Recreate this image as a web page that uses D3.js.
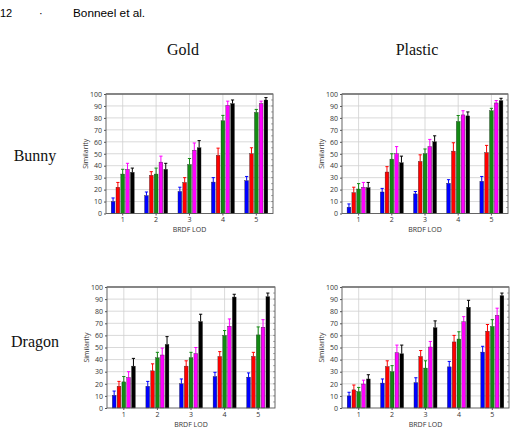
<!DOCTYPE html>
<html>
<head>
<meta charset="utf-8">
<script src="https://cdnjs.cloudflare.com/ajax/libs/d3/7.8.5/d3.min.js"></script>
<style>
  body { margin: 0; background: #fff; }
  .tick-label { font-family: "Open Sans", sans-serif; font-size: 7px; fill: #333; }
  .axis-title { font-family: "Open Sans", sans-serif; font-size: 7px; fill: #333; }
  .serif { font-family: "Liberation Serif", "Times New Roman", serif; font-size: 16px; fill: #111; }
</style>
</head>
<body>
<div id="chart"></div>
<script>
// BRDF LOD categories and y ticks
const lods = ["1", "2", "3", "4", "5"];
const yTicks = [0, 10, 20, 30, 40, 50, 60, 70, 80, 90, 100];
const seriesNames = ["s1", "s2", "s3", "s4", "s5"];

// values: one row per series (blue, red, green, magenta, black), one column per LOD
const goldBunny = [
  [10, 15, 18.5, 26.3, 27.5],
  [22, 32, 26, 48.7, 50],
  [33, 33, 41, 77.6, 84.6],
  [37, 43, 53, 90.5, 92],
  [34.5, 37, 55, 92, 95]
];
const goldBunnyErr = [
  [3, 3, 3.5, 3.7, 3.5],
  [4, 3, 4, 6, 5],
  [4, 5, 5, 4.5, 2.5],
  [5, 5, 6, 3.5, 2],
  [3.5, 5, 6, 3, 2]
];
const plasticBunny = [
  [5.3, 18, 16.4, 25.3, 27],
  [17.5, 34.7, 43.6, 52.2, 51],
  [20.5, 45.5, 50, 77, 86],
  [22, 50, 56, 82.5, 92.5],
  [21.7, 42.5, 60, 81.7, 94.4]
];
const plasticBunnyErr = [
  [2.7, 3, 2, 3, 4],
  [4.5, 4.5, 5.5, 7, 6],
  [4.5, 4.5, 4, 5, 2],
  [4, 6, 6, 3.5, 2],
  [4.3, 5.5, 5, 3.3, 2]
];
const goldDragon = [
  [10.5, 18, 20, 26, 25.5],
  [18, 30.7, 34.6, 42.6, 42.7],
  [21.6, 41.5, 41.5, 60, 60.4],
  [25.2, 43.8, 45, 67.6, 66.8],
  [34.6, 52.6, 71.5, 91.7, 92]
];
const goldDragonErr = [
  [3.5, 4, 4, 3.5, 3.5],
  [4, 5.8, 4.4, 4, 3.3],
  [4.4, 4.5, 4.5, 4, 6.6],
  [4.8, 5.7, 5, 6, 6.2],
  [6.4, 6.4, 6, 2.3, 3]
];
const plasticDragon = [
  [10, 20.6, 21, 34, 46.2],
  [15, 34.3, 42.6, 54.6, 63.5],
  [13.6, 30, 33, 57, 67.4],
  [19.8, 45.7, 50.4, 71.3, 76.6],
  [24, 44.8, 66.3, 83.3, 92.8]
];
const plasticDragonErr = [
  [3, 3.4, 4, 4.5, 4.8],
  [4, 4.7, 4.9, 5.4, 5.5],
  [3.4, 5, 6, 6, 5.6],
  [3.2, 6.3, 4.6, 4.2, 5.9],
  [3.5, 7.2, 5.7, 5.7, 2.2]
];

const colors = ["#0000ff", "#ff0000", "#138a13", "#ff00ff", "#000000"];

const svg = d3.select("#chart").append("svg")
  .attr("width", 516)
  .attr("height", 444);

// page header
svg.append("text").attr("x", 0).attr("y", 17)
  .style("font-family", "Liberation Sans, Arial, sans-serif").style("font-size", "11px").text("12");
svg.append("text").attr("x", 39).attr("y", 17)
  .style("font-family", "Liberation Sans, Arial, sans-serif").style("font-size", "11px").text("·");
svg.append("text").attr("x", 73).attr("y", 17)
  .style("font-family", "Liberation Sans, Arial, sans-serif").style("font-size", "11.8px").text("Bonneel et al.");

// column / row titles
svg.append("text").attr("class", "serif").attr("x", 183).attr("y", 55).attr("text-anchor", "middle").text("Gold");
svg.append("text").attr("class", "serif").attr("x", 417).attr("y", 55).attr("text-anchor", "middle").text("Plastic");
svg.append("text").attr("class", "serif").attr("x", 35).attr("y", 161).attr("text-anchor", "middle").text("Bunny");
svg.append("text").attr("class", "serif").attr("x", 35).attr("y", 347).attr("text-anchor", "middle").text("Dragon");

function drawPanel(x0, x1, y0, y1, values, errs) {
  const g = svg.append("g");

  const x = d3.scaleBand().domain(lods).range([x0, x1]).padding(0);
  const y = d3.scaleLinear().domain([0, 100]).range([y1, y0]);
  const bw = x.bandwidth();
  const inner = d3.scaleBand().domain(seriesNames)
    .range([(bw - 24) / 2, (bw + 24) / 2]).paddingInner(0.22).paddingOuter(0.1);

  // grid
  g.selectAll(".hgrid").data(yTicks.slice(1, -1)).enter().append("line")
    .attr("x1", x0).attr("x2", x1)
    .attr("y1", d => y(d)).attr("y2", d => y(d))
    .attr("stroke", "#cfcfcf").attr("stroke-width", 0.8);
  g.selectAll(".vgrid").data(lods).enter().append("line")
    .attr("x1", d => x(d) + bw / 2).attr("x2", d => x(d) + bw / 2)
    .attr("y1", y0).attr("y2", y1)
    .attr("stroke", "#cfcfcf").attr("stroke-width", 0.8);

  // right-side minor ticks
  g.selectAll(".rtick").data(d3.range(5, 100, 5)).enter().append("line")
    .attr("x1", x1 - 2).attr("x2", x1)
    .attr("y1", d => y(d)).attr("y2", d => y(d))
    .attr("stroke", "#777").attr("stroke-width", 0.6);

  // bars + error bars
  values.forEach((row, si) => {
    const grp = g.append("g");
    row.forEach((v, li) => {
      const cx = x(lods[li]) + inner(seriesNames[si]) + inner.bandwidth() / 2;
      const top = y(v + errs[si][li]);
      grp.append("line")
        .attr("x1", cx).attr("x2", cx).attr("y1", y(v)).attr("y2", top)
        .attr("stroke", colors[si]).attr("stroke-width", 1);
      grp.append("line")
        .attr("x1", cx - 1.6).attr("x2", cx + 1.6).attr("y1", top).attr("y2", top)
        .attr("stroke", colors[si]).attr("stroke-width", 1);
    });
    grp.selectAll("rect").data(row).enter().append("rect")
      .attr("x", (d, li) => x(lods[li]) + inner(seriesNames[si]))
      .attr("y", d => y(d))
      .attr("width", inner.bandwidth())
      .attr("height", d => y1 - y(d))
      .attr("fill", colors[si])
      .attr("stroke", "#222")
      .attr("stroke-width", 0.35);
  });

  // frame
  g.append("rect")
    .attr("x", x0).attr("y", y0).attr("width", x1 - x0).attr("height", y1 - y0)
    .attr("fill", "none").attr("stroke", "#555").attr("stroke-width", 0.9);
  g.append("line").attr("x1", x0).attr("x2", x1).attr("y1", y0).attr("y2", y0)
    .attr("stroke", "#777").attr("stroke-width", 1.6);

  // y axis
  const ya = g.append("g").attr("transform", `translate(${x0},0)`)
    .call(d3.axisLeft(y).tickValues(yTicks).tickSize(2).tickPadding(2));
  ya.select(".domain").remove();
  ya.selectAll("line").attr("stroke", "#555");
  ya.selectAll("text").attr("class", "tick-label").attr("fill", null);

  // x axis
  const xa = g.append("g").attr("transform", `translate(0,${y1})`)
    .call(d3.axisBottom(x).tickSize(2).tickPadding(2));
  xa.select(".domain").remove();
  xa.selectAll("line").attr("stroke", "#555");
  xa.selectAll("text").attr("class", "tick-label").attr("fill", null);

  g.append("text").attr("class", "axis-title")
    .attr("x", (x0 + x1) / 2).attr("y", y1 + 18.5).attr("text-anchor", "middle")
    .text("BRDF LOD");
  g.append("text").attr("class", "axis-title")
    .attr("transform", `translate(${x0 - 18},${(y0 + y1) / 2}) rotate(-90)`)
    .attr("text-anchor", "middle")
    .text("Similarity");
}

drawPanel(106, 273, 94, 213.5, goldBunny, goldBunnyErr);
drawPanel(342, 508, 94, 213.5, plasticBunny, plasticBunnyErr);
drawPanel(107, 275, 287, 408, goldDragon, goldDragonErr);
drawPanel(342, 509, 287, 408, plasticDragon, plasticDragonErr);
</script>
</body>
</html>
